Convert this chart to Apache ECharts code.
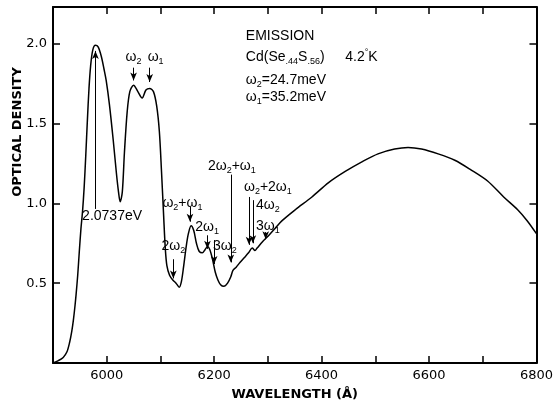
<!DOCTYPE html>
<html>
<head>
<meta charset="utf-8">
<script src="https://cdn.jsdelivr.net/npm/echarts@6/dist/echarts.min.js"></script>
<style>
html,body{margin:0;padding:0;background:#fff;}
#chart{width:556px;height:406px;}
</style>
</head>
<body>
<div id="chart"></div>
<script>
// ---- data ----
const wavelength = [5900,5910,5919,5926,5931,5935,5938,5941,5943,5946,5949,5952,5955,5958,5961,5964,5967,5970,5974,5979,5984,5990,5995,5999,6005,6012,6018,6022,6025,6029,6033,6038,6043,6050,6058,6066,6073,6080,6087,6093,6098,6102,6106,6109,6112,6117,6123,6129,6135,6139,6143,6148,6152,6157,6162,6167,6172,6178,6183,6188,6192,6197,6202,6207,6212,6218,6225,6231,6235,6241,6248,6256,6264,6271,6276,6280,6290,6302,6314,6326,6351,6382,6413,6444,6475,6505,6536,6561,6586,6617,6648,6678,6709,6739,6765,6783,6800];
const density = [0.00,0.015,0.035,0.07,0.13,0.20,0.27,0.36,0.43,0.55,0.70,0.84,0.95,1.10,1.30,1.52,1.72,1.86,1.96,1.99,1.98,1.92,1.84,1.77,1.62,1.40,1.19,1.07,1.01,1.07,1.32,1.57,1.70,1.74,1.70,1.66,1.71,1.72,1.70,1.61,1.45,1.20,0.92,0.72,0.61,0.55,0.52,0.50,0.475,0.51,0.60,0.73,0.81,0.86,0.83,0.75,0.70,0.69,0.71,0.73,0.71,0.65,0.57,0.52,0.49,0.48,0.50,0.54,0.58,0.60,0.63,0.66,0.69,0.72,0.705,0.72,0.76,0.80,0.845,0.89,0.96,1.04,1.13,1.20,1.26,1.31,1.34,1.35,1.34,1.31,1.27,1.21,1.14,1.04,0.96,0.89,0.81];

const xTickLabels = [6000,6200,6400,6600,6800];
const yTickLabels = [0.5,1.0,1.5,2.0];

// annotation labels (data coordinates)
const noteText = ['2.0737eV','ω_2','ω_1','ω_2+ω_1','2ω_2','2ω_1','3ω_2','2ω_2+ω_1','ω_2+2ω_1','4ω_2','3ω_1'];
const noteX    = [6010,6050,6091,6141,6124,6187,6220,6233,6300,6300,6300];
const noteY    = [0.92,1.915,1.915,1.00,0.73,0.85,0.73,1.235,1.10,0.99,0.86];

// arrows (data coordinates)
const arrowX    = [5979,6050,6080,6155,6124,6187.5,6200,6231,6265,6272,6296];
const arrowFrom = [0.965,1.85,1.85,0.98,0.65,0.80,0.77,1.18,1.04,1.02,0.82];
const arrowTo   = [1.955,1.77,1.76,0.885,0.53,0.715,0.62,0.63,0.74,0.75,0.775];

// info block
const infoText = ['EMISSION','Cd(Se_{.44}S_{.56})','4.2^°K','ω_2=24.7meV','ω_1=35.2meV'];
const infoX    = [6259,6259,6444,6259,6259];
const infoY    = [2.05,1.915,1.915,1.77,1.665];

// ---- helpers ----
function toRich(s){
  const parts=[]; let i=0;
  while(i<s.length){
    const c=s[i];
    if(c==='_'||c==='^'){
      let body;
      if(s[i+1]==='{'){const j=s.indexOf('}',i+2); body=s.slice(i+2,j); i=j+1;}
      else {body=s[i+1]; i+=2;}
      parts.push('{'+(c==='_'?'sub':'sup')+'|'+body+'}');
    } else {
      let j=i; while(j<s.length&&s[j]!=='_'&&s[j]!=='^') j++;
      parts.push('{t|'+s.slice(i,j)+'}'); i=j;
    }
  }
  return parts.join('');
}
const FONT = 'Liberation Sans';
const richStyle = {
  t:{fontSize:14,fontFamily:FONT,color:'#000',lineHeight:18,verticalAlign:'middle'},
  sub:{fontSize:9,fontFamily:FONT,color:'#000',lineHeight:18,verticalAlign:'bottom'},
  sup:{fontSize:9,fontFamily:FONT,color:'#000',lineHeight:18,verticalAlign:'top'}
};

const lineData = wavelength.map((w,i)=>[w,density[i]]);

const markPoints = noteText.map((t,i)=>({
  coord:[noteX[i],noteY[i]], value:0,
  label:{show:true,position:'inside',formatter:toRich(t),rich:richStyle,align:'center'}
})).concat(infoText.map((t,i)=>({
  coord:[infoX[i],infoY[i]], value:0,
  label:{show:true,position:'inside',formatter:toRich(t),rich:richStyle,align:'left'}
})));

const markLines = arrowX.map((x,i)=>[{coord:[x,arrowFrom[i]]},{coord:[x,arrowTo[i]]}]);

const axisCommon = {
  axisLine:{show:true,onZero:false,lineStyle:{color:'#000',width:2}},
  axisTick:{show:true,inside:true,length:7,lineStyle:{color:'#000',width:1.5}},
  splitLine:{show:false}
};

const chart = echarts.init(document.getElementById('chart'),null,{renderer:'canvas'});
chart.setOption({
  animation:false,
  backgroundColor:'#fff',
  grid:{left:53,right:17,top:7,bottom:42,containLabel:false},
  xAxis:[
    Object.assign({},axisCommon,{
      type:'value',min:5900,max:6800,interval:100,position:'bottom',
      axisLabel:{color:'#000',fontFamily:'DejaVu Sans',fontSize:13,margin:6,
        formatter:v=>xTickLabels.includes(v)?String(v):''},
      name:'WAVELENGTH (Å)',nameLocation:'middle',nameGap:25,
      nameTextStyle:{color:'#000',fontFamily:'DejaVu Sans',fontWeight:'bold',fontSize:13}
    }),
    Object.assign({},axisCommon,{
      type:'value',min:5900,max:6800,interval:100,position:'top',
      axisLabel:{show:false}
    })
  ],
  yAxis:[
    Object.assign({},axisCommon,{
      type:'value',min:0,max:2.23,interval:0.5,position:'left',
      axisLabel:{color:'#000',fontFamily:'DejaVu Sans',fontSize:13,margin:6,
        formatter:v=>yTickLabels.some(t=>Math.abs(t-v)<1e-9)?v.toFixed(1):''}
    }),
    Object.assign({},axisCommon,{
      type:'value',min:0,max:2.23,interval:0.5,position:'right',
      axisLabel:{show:false}
    })
  ],
  graphic:[{
    type:'text',x:18,y:132,rotation:Math.PI/2,
    style:{text:'OPTICAL DENSITY',fill:'#000',font:'bold 13px "DejaVu Sans"',align:'center',verticalAlign:'middle'}
  }],
  series:[{
    type:'line',
    data:lineData,
    xAxisIndex:0,yAxisIndex:0,
    showSymbol:false,
    smooth:0.3,
    lineStyle:{color:'#000',width:1.5},
    silent:true,
    markLine:{
      silent:true,animation:false,
      symbol:['none','arrow'],symbolSize:[5,8],
      itemStyle:{color:'#000'},
      lineStyle:{color:'#000',width:1,type:'solid'},
      label:{show:false},
      data:markLines
    },
    markPoint:{
      silent:true,animation:false,
      symbol:'circle',symbolSize:0,
      itemStyle:{color:'rgba(0,0,0,0)'},
      data:markPoints
    }
  }]
});
</script>
</body>
</html>
